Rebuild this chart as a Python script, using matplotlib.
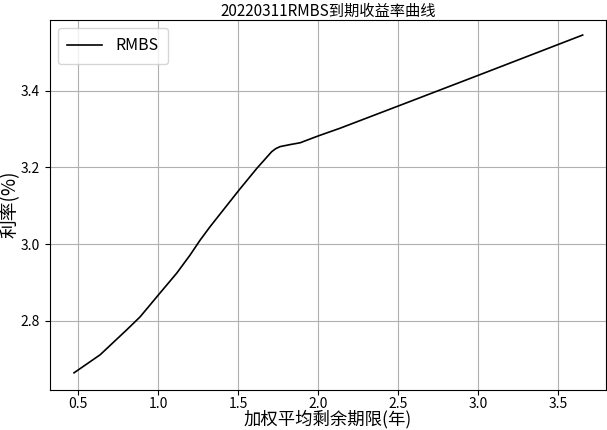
import matplotlib
matplotlib.use("Agg")
import matplotlib.pyplot as plt

plt.rcParams['font.family'] = ['Noto Sans CJK SC', 'DejaVu Sans']
plt.rcParams['axes.unicode_minus'] = False

# 加权平均剩余期限(年) 与 到期收益率(%)
term = [0.473, 0.636, 0.802, 0.886, 1.000, 1.115, 1.198, 1.261, 1.323, 1.505,
        1.615, 1.709, 1.735, 1.761, 1.820, 1.886, 2.000, 2.136, 2.500, 3.000, 3.652]
rate = [2.664, 2.711, 2.776, 2.810, 2.867, 2.924, 2.971, 3.010, 3.045, 3.141,
        3.197, 3.241, 3.249, 3.254, 3.259, 3.264, 3.282, 3.302, 3.360, 3.440, 3.545]

fig = plt.figure(figsize=(6.07, 4.30), dpi=100)
ax = fig.add_axes((49.7 / 607, 1 - 389.7 / 430, (606.5 - 49.7) / 607, (389.7 - 19.7) / 430))

ax.plot(term, rate, color="black", linewidth=1.2, label="RMBS")
ax.grid(True, color="#b0b0b0", linewidth=0.8)
ax.set_xlim(0.321, 3.801)
ax.set_ylim(2.620, 3.585)
ax.set_xticks([0.5, 1.0, 1.5, 2.0, 2.5, 3.0, 3.5])
ax.set_yticks([2.8, 3.0, 3.2, 3.4])
ax.tick_params(labelsize=10)
ax.tick_params(axis="x", pad=2)

ax.set_title("20220311RMBS到期收益率曲线", fontsize=11, pad=2)
ax.set_xlabel("加权平均剩余期限(年)", fontsize=12.5, labelpad=-1)
ax.set_ylabel("利率(%)", fontsize=13.5, labelpad=0)
ax.legend(loc="upper left", fontsize=11.5, borderpad=0.6, handlelength=2.2)

fig.savefig("out.png", dpi=100)
